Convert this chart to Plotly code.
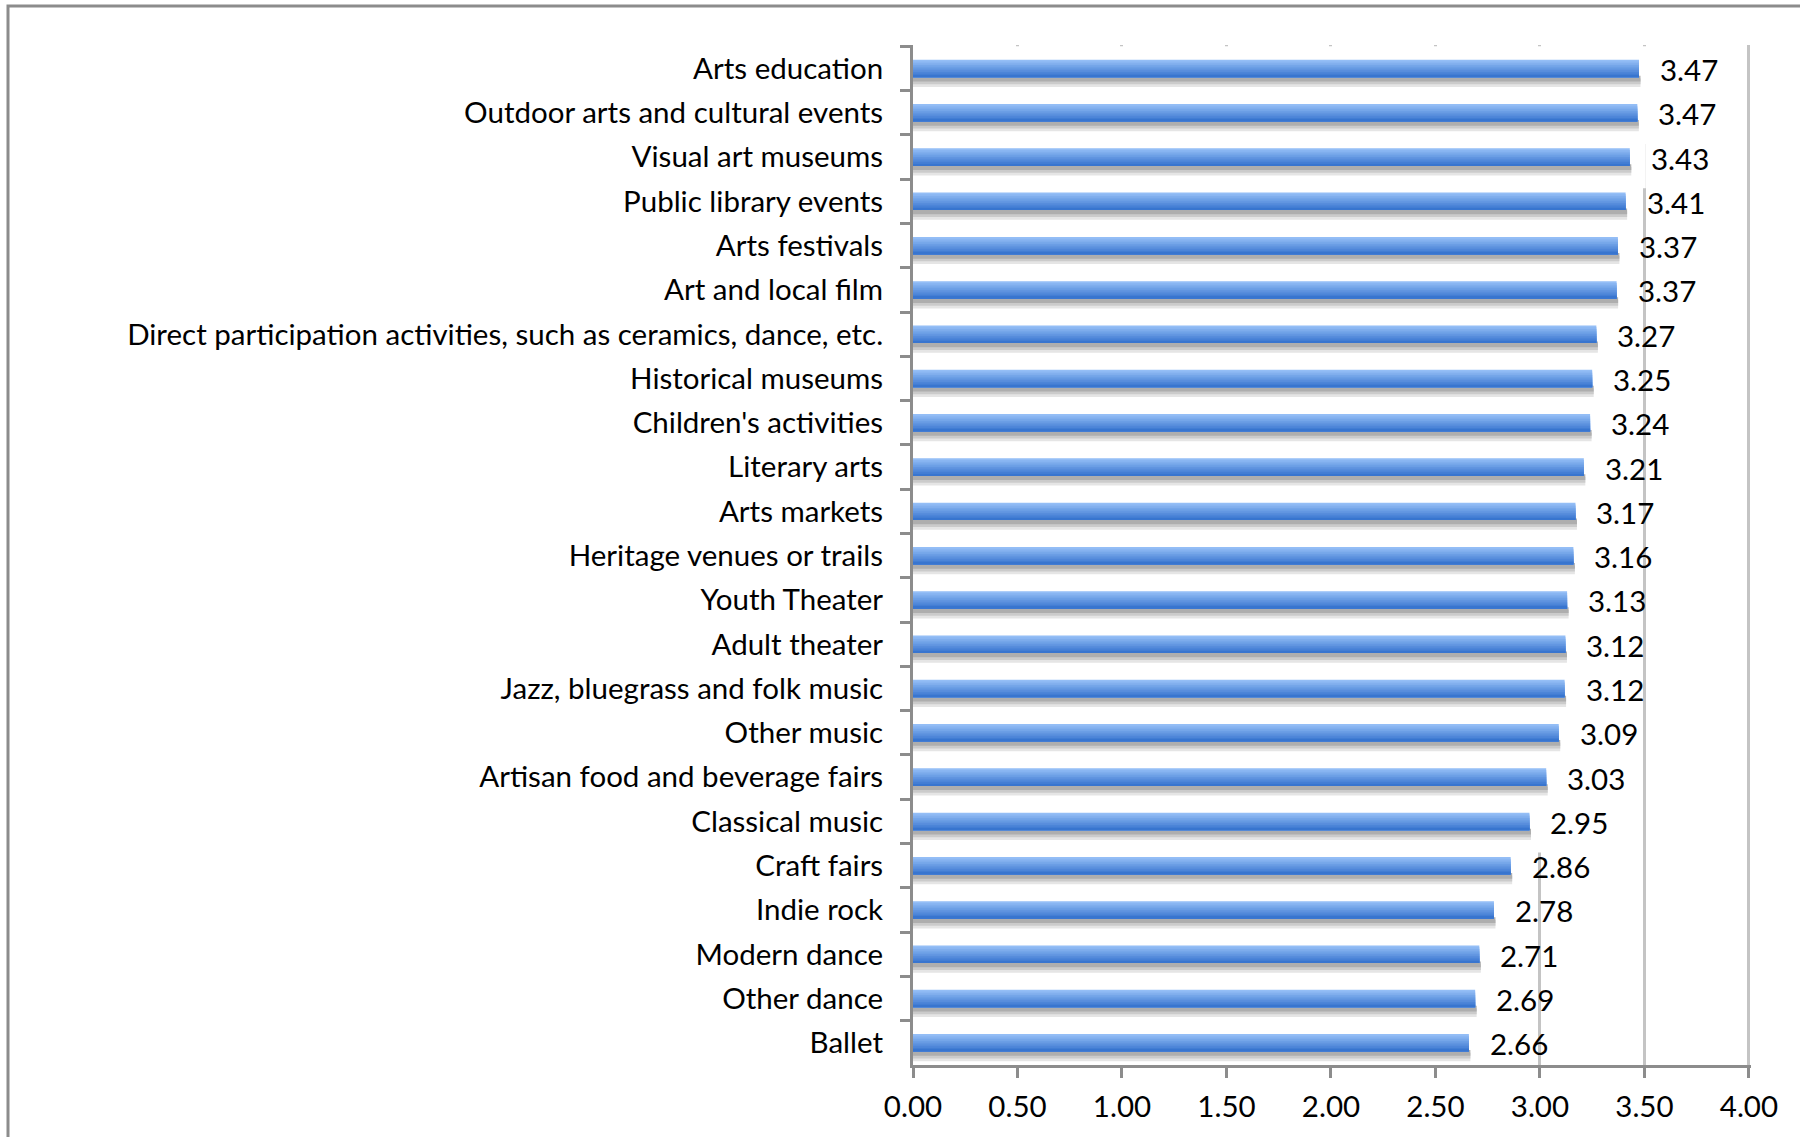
import plotly.graph_objects as go

categories = [
    "Arts education",
    "Outdoor arts and cultural events",
    "Visual art museums",
    "Public library events",
    "Arts festivals",
    "Art and local film",
    "Direct participation activities, such as ceramics, dance, etc.",
    "Historical museums",
    "Children's activities",
    "Literary arts",
    "Arts markets",
    "Heritage venues or trails",
    "Youth Theater",
    "Adult theater",
    "Jazz, bluegrass and folk music",
    "Other music",
    "Artisan food and beverage fairs",
    "Classical music",
    "Craft fairs",
    "Indie rock",
    "Modern dance",
    "Other dance",
    "Ballet",
]
values = [3.474, 3.466, 3.43, 3.41, 3.373, 3.367, 3.27, 3.25, 3.24, 3.21, 3.17, 3.16,
          3.13, 3.122, 3.118, 3.09, 3.03, 2.95, 2.86, 2.78, 2.71, 2.69, 2.66]
x_ticks = [0, 0.5, 1.0, 1.5, 2.0, 2.5, 3.0, 3.5, 4.0]

FONT = "Lato"
FS = 29.5
GRAY = "#8c8c8c"

W, H = 1800, 1137
ML, MR, MT, MB = 913, 49, 45, 72
ROW_PX = (H - MT - MB) / 23.0

fig = go.Figure()

# white background band behind each bar (hides gridlines, like the Excel shadow area)
band_line = 32
band_w = (ROW_PX + 9 - band_line) / ROW_PX
band_off = -0.5 + (band_line / 2) / ROW_PX
fig.add_trace(go.Bar(
    y=categories, x=values, orientation="h",
    width=band_w, offset=band_off,
    marker=dict(color="white", line=dict(color="white", width=band_line)),
    hoverinfo="skip", showlegend=False,
))

bar_h = 0.395
top = -bar_h / 2

# soft gray shadow under each bar
shadow_cols = ["#aeaeae", "#cbcbcb", "#e5e5e5"]
sh = 0.062
for i, c in reversed(list(enumerate(shadow_cols))):
    fig.add_trace(go.Bar(
        y=categories, x=values, orientation="h",
        width=sh, offset=top + bar_h + i * sh,
        marker=dict(color=c, line=dict(color=c, width=3)),
        hoverinfo="skip", showlegend=False,
    ))

# blue bar with vertical gradient (light top to darker bottom)
n = 10
c0 = (148, 190, 246)
c1 = (56, 117, 207)
sw = bar_h / n
for i in range(n):
    t = i / (n - 1)
    col = "rgb(%d,%d,%d)" % tuple(round(a + (b - a) * t) for a, b in zip(c0, c1))
    fig.add_trace(go.Bar(
        y=categories, x=values, orientation="h",
        width=bar_h - i * sw, offset=top + i * sw,
        marker=dict(color=col, line=dict(width=0)),
        hoverinfo="skip", showlegend=False,
    ))

# data labels
for cat, v in zip(categories, values):
    fig.add_annotation(
        x=v, y=cat, text="%.2f" % v, showarrow=False,
        xanchor="left", yanchor="middle", xshift=19, yshift=-1,
        font=dict(family=FONT, size=FS, color="#000000"),
    )

# outer frame (only top and left edges are visible in the crop)
pw = W - ML - MR
ph = H - MT - MB
fig.add_shape(
    type="rect", xref="paper", yref="paper",
    x0=(8 - ML) / pw, x1=2.0, y0=-2.0, y1=1 + (MT - 6) / ph,
    line=dict(color=GRAY, width=3), fillcolor="rgba(0,0,0,0)", layer="below",
)

fig.update_layout(
    width=W, height=H,
    margin=dict(l=ML, r=MR, t=MT, b=MB, pad=0),
    barmode="overlay",
    plot_bgcolor="white", paper_bgcolor="white",
    font=dict(family=FONT, size=FS, color="#000000"),
    showlegend=False,
)
fig.update_xaxes(
    range=[0, 4.01], tickvals=x_ticks, tickformat=".2f",
    showgrid=True, gridcolor="#c4c4c4", gridwidth=2.5,
    zeroline=False, showline=True, linecolor=GRAY, linewidth=2.5,
    ticks="outside", ticklen=10, tickwidth=2.5, tickcolor=GRAY,
    ticklabelstandoff=4,
    tickfont=dict(family=FONT, size=FS, color="#000000"),
)
fig.update_yaxes(
    type="category", categoryorder="array", categoryarray=categories,
    range=[22.5, -0.53],
    showgrid=False, zeroline=False, showline=True, linecolor=GRAY, linewidth=3,
    ticks="outside", tickson="boundaries", ticklen=10, tickwidth=2.5, tickcolor=GRAY,
    ticklabelstandoff=21,
    tickfont=dict(family=FONT, size=FS, color="#000000"),
)

fig.write_html(
    "out.html",
    config={"displayModeBar": False},
    post_script="document.body.style.margin='0';document.body.style.overflow='hidden';",
)
